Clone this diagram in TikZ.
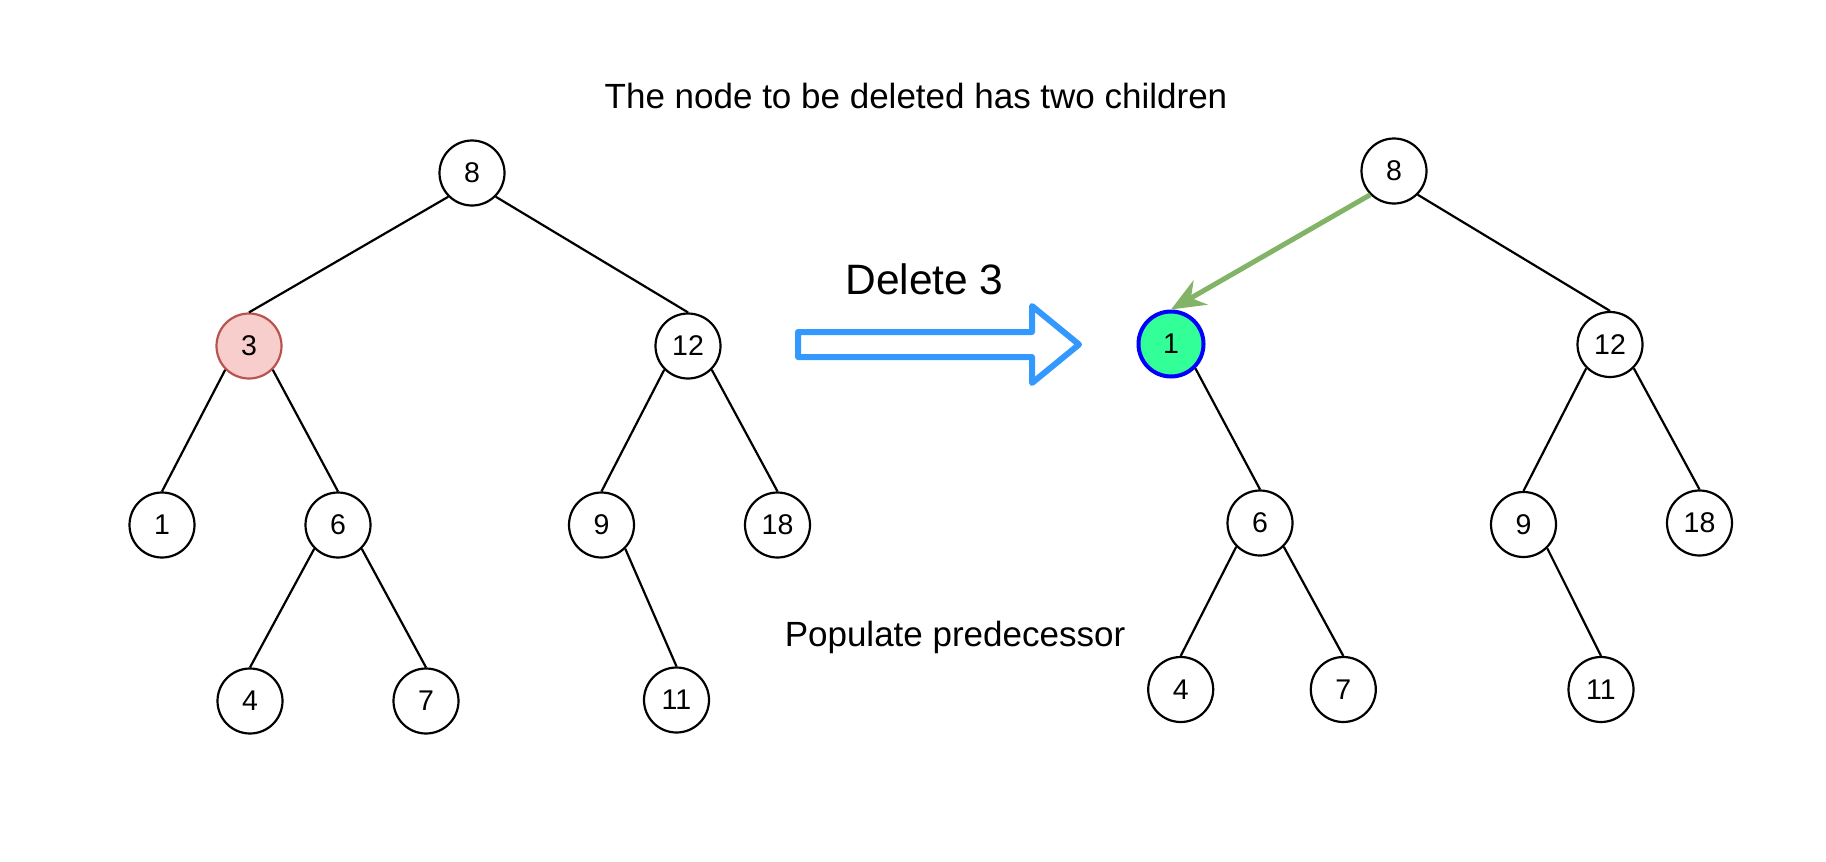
\documentclass[tikz,border=0pt]{standalone}
\usepackage{fontspec}
\setmainfont{Liberation Sans}
\usetikzlibrary{arrows.meta}
\definecolor{delfill}{HTML}{F8CECC}
\definecolor{deldraw}{HTML}{B85450}
\definecolor{predfill}{HTML}{33FF99}
\definecolor{preddraw}{HTML}{0000FF}
\definecolor{greenarrow}{HTML}{82B366}
\definecolor{bluearrow}{HTML}{3399FF}
\begin{document}
\begin{tikzpicture}[x=1pt,y=-1pt,
  treenode/.style={circle, draw=black, line width=2.2pt, fill=white, minimum size=65pt, inner sep=0pt, font=\fontsize{28.5}{32}\selectfont},
  edge/.style={line width=2.2pt, draw=black},
  lbl/.style={anchor=base, inner sep=0pt, font=\fontsize{35}{40}\selectfont}]
\useasboundingbox (0,0) rectangle (1826,862);
% texts
\node[lbl] (title) at (916,108.3) {The node to be deleted has two children};
\node[lbl, font=\fontsize{42.5}{48}\selectfont] (del) at (924.5,294.3) {Delete 3};
\node[lbl] (pop) at (955,646) {Populate predecessor};
% left tree
\node[treenode] (l8) at (472,173) {8};
\node[treenode, fill=delfill, draw=deldraw] (l3) at (249,346) {3};
\node[treenode] (l12) at (688,346) {12};
\node[treenode] (l1) at (162,525) {1};
\node[treenode] (l6) at (338,525) {6};
\node[treenode] (l9) at (601.5,525) {9};
\node[treenode] (l18) at (777.5,525) {18};
\node[treenode] (l4) at (250,701) {4};
\node[treenode] (l7) at (426,701) {7};
\node[treenode] (l11) at (676.5,700) {11};
\draw[edge] (l8.south west) -- (l3.north);
\draw[edge] (l8.south east) -- (l12.north);
\draw[edge] (l3.south west) -- (l1.north);
\draw[edge] (l3.south east) -- (l6.north);
\draw[edge] (l6.south west) -- (l4.north);
\draw[edge] (l6.south east) -- (l7.north);
\draw[edge] (l12.south west) -- (l9.north);
\draw[edge] (l12.south east) -- (l18.north);
\draw[edge] (l9.south east) -- (l11.north);
% right tree
\node[treenode] (r8) at (1394,171) {8};
\node[treenode, fill=predfill, draw=preddraw, line width=4pt] (r1) at (1171,344) {1};
\node[treenode] (r12) at (1610,344.5) {12};
\node[treenode] (r6) at (1260,523) {6};
\node[treenode] (r9) at (1523.5,524.5) {9};
\node[treenode] (r18) at (1699.5,523) {18};
\node[treenode] (r4) at (1180.7,689.5) {4};
\node[treenode] (r7) at (1343.3,689.5) {7};
\node[treenode] (r11) at (1601,689.5) {11};
\draw[edge] (r8.south east) -- (r12.north);
\draw[edge] (r1.south east) -- (r6.north);
\draw[edge] (r6.south west) -- (r4.north);
\draw[edge] (r6.south east) -- (r7.north);
\draw[edge] (r12.south west) -- (r9.north);
\draw[edge] (r12.south east) -- (r18.north);
\draw[edge] (r9.south east) -- (r11.north);
\draw[draw=greenarrow, line width=5pt, -{Stealth[length=34pt,width=28pt,inset=11pt,fill=greenarrow]}] (r8.south west) -- (r1.north);
% block arrow
\draw[draw=bluearrow, fill=white, line width=6pt, line join=round]
  (798,332) -- (1032,332) -- (1032,306) -- (1079,344.5) -- (1032,383) -- (1032,357) -- (798,357) -- cycle;
\end{tikzpicture}
\end{document}
